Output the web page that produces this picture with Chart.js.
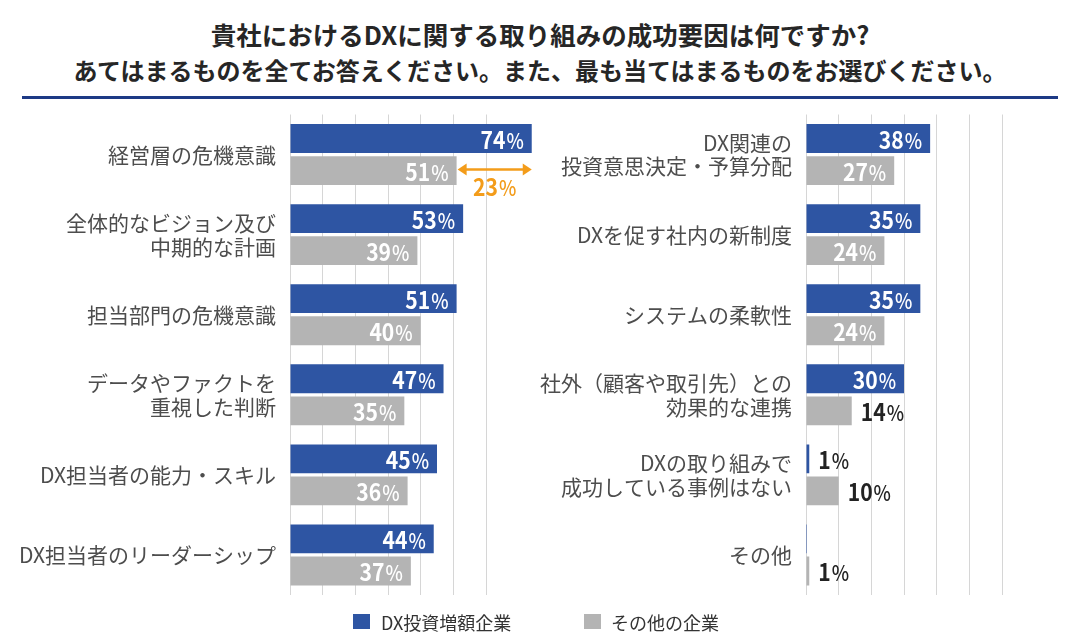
<!DOCTYPE html>
<html lang="ja">
<head>
<meta charset="utf-8">
<script src="https://cdn.jsdelivr.net/npm/chart.js@4.4.1/dist/chart.umd.min.js"></script>
<style>
  html, body { margin: 0; padding: 0; background: #ffffff; }
  body { width: 1080px; height: 640px; position: relative; overflow: hidden; font-family: "Noto Sans CJK JP", "Noto Sans", sans-serif; }
  .title { position: absolute; left: 0; width: 1080px; text-align: center; font-weight: bold; color: #262626; white-space: nowrap; line-height: 30px; }
  #t1 { top: 19px; font-size: 25.5px; }
  #t2 { top: 55px; font-size: 24px; }
  #rule { position: absolute; left: 22px; top: 96px; width: 1036px; height: 3px; background: #1d3a85; }
  canvas { position: absolute; }
  #cL { left: 0; top: 100px; }
  #cR { left: 540px; top: 100px; }
  .leg { position: absolute; top: 609px; font-size: 18px; color: #333; line-height: 26px; white-space: nowrap; }
  .sw { position: absolute; width: 17px; height: 15px; top: 614px; }
</style>
</head>
<body>
<div class="title" id="t1">貴社におけるDXに関する取り組みの成功要因は何ですか?</div>
<div class="title" id="t2">あてはまるものを全てお答えください。また、最も当てはまるものをお選びください。</div>
<div id="rule"></div>
<canvas id="cL" width="545" height="540"></canvas>
<canvas id="cR" width="540" height="540"></canvas>
<div class="sw" style="left:353px; background:#2e55a3;"></div>
<div class="leg" style="left:381px;" id="leg1"></div>
<div class="sw" style="left:584px; background:#b4b4b4;"></div>
<div class="leg" style="left:611px;" id="leg2"></div>
<script>
// ---- data ----
const seriesNames = ['DX投資増額企業', 'その他の企業'];
const categoriesLeft = [
  ['経営層の危機意識'],
  ['全体的なビジョン及び', '中期的な計画'],
  ['担当部門の危機意識'],
  ['データやファクトを', '重視した判断'],
  ['DX担当者の能力・スキル'],
  ['DX担当者のリーダーシップ']
];
const dxLeft = [74, 53, 51, 47, 45, 44];
const otherLeft = [51, 39, 40, 35, 36, 37];

const categoriesRight = [
  ['DX関連の', '投資意思決定・予算分配'],
  ['DXを促す社内の新制度'],
  ['システムの柔軟性'],
  ['社外（顧客や取引先）との', '効果的な連携'],
  ['DXの取り組みで', '成功している事例はない'],
  ['その他']
];
const dxRight = [38, 35, 35, 30, 1, 0.3];
const otherRight = [27, 24, 24, 14, 10, 1];

const axisMax = 75;
const gridStep = 10;

// ---- styles ----
const BLUE = '#2e55a3';
const GRAY = '#b4b4b4';
const ORANGE = '#f39c1a';
const FONT = '"Noto Sans CJK JP", "Noto Sans", sans-serif';

document.getElementById('leg1').textContent = seriesNames[0];
document.getElementById('leg2').textContent = seriesNames[1];

const SX = 0.88;
const NUM_FONT = 'bold 24px ';
const PCT_FONT = '500 21px ';
function pctWidth(ctx, value) {
  ctx.save();
  ctx.font = NUM_FONT + FONT;
  const wn = ctx.measureText(String(Math.round(value))).width * SX;
  ctx.font = PCT_FONT + FONT;
  const wp = ctx.measureText('%').width * SX;
  ctx.restore();
  return { wn, wp, total: wn + wp + 1 };
}
function drawPct(ctx, value, x, y, align, color) {
  const num = String(Math.round(value));
  const m = pctWidth(ctx, value);
  ctx.save();
  ctx.fillStyle = color;
  ctx.textBaseline = 'middle';
  ctx.textAlign = 'left';
  const x0 = align === 'right' ? x - m.total : x;
  ctx.translate(x0, y);
  ctx.scale(SX, 1);
  ctx.font = NUM_FONT + FONT;
  ctx.fillText(num, 0, 1);
  ctx.font = PCT_FONT + FONT;
  ctx.fillText('%', (m.wn + 1) / SX, 2);
  ctx.restore();
}

const labelPlugin = {
  id: 'barLabels',
  afterDatasetsDraw(chart) {
    const ctx = chart.ctx;
    chart.data.datasets.forEach((ds, di) => {
      const meta = chart.getDatasetMeta(di);
      meta.data.forEach((bar, i) => {
        const v = ds.data[i];
        if (v < 0.5) return;
        if (v >= 20) {
          drawPct(ctx, v, bar.x - 8, bar.y, 'right', '#ffffff');
        } else {
          drawPct(ctx, v, bar.x + 9, bar.y, 'left', '#222222');
        }
      });
    });
  }
};

const gapPlugin = {
  id: 'gapArrow',
  afterDatasetsDraw(chart) {
    if (!chart.options.plugins.gapArrow || !chart.options.plugins.gapArrow.show) return;
    const ctx = chart.ctx;
    const a = chart.getDatasetMeta(0).data[0];
    const b = chart.getDatasetMeta(1).data[0];
    const x1 = b.x + 1, x2 = a.x, y = b.y - 1;
    ctx.save();
    ctx.strokeStyle = ORANGE; ctx.fillStyle = ORANGE; ctx.lineWidth = 2.5;
    ctx.beginPath(); ctx.moveTo(x1 + 6, y); ctx.lineTo(x2 - 6, y); ctx.stroke();
    ctx.beginPath(); ctx.moveTo(x1, y); ctx.lineTo(x1 + 9, y - 6); ctx.lineTo(x1 + 9, y + 6); ctx.closePath(); ctx.fill();
    ctx.beginPath(); ctx.moveTo(x2, y); ctx.lineTo(x2 - 9, y - 6); ctx.lineTo(x2 - 9, y + 6); ctx.closePath(); ctx.fill();
    ctx.restore();
    const diff = chart.data.datasets[0].data[0] - chart.data.datasets[1].data[0];
    const cx = (x1 + x2) / 2;
    const m = pctWidth(ctx, diff);
    drawPct(ctx, diff, cx - m.total / 2, y + 16, 'left', ORANGE);
  }
};

function makeChart(id, cats, d1, d2, yWidth, padRight, showGap) {
  return new Chart(document.getElementById(id), {
    type: 'bar',
    data: {
      labels: cats,
      datasets: [
        { label: seriesNames[0], data: d1, backgroundColor: BLUE, categoryPercentage: 0.8, barPercentage: 0.9 },
        { label: seriesNames[1], data: d2, backgroundColor: GRAY, categoryPercentage: 0.8, barPercentage: 0.9 }
      ]
    },
    options: {
      indexAxis: 'y',
      responsive: false,
      animation: false,
      layout: { padding: { top: 14.5, bottom: 45, left: 0, right: padRight } },
      plugins: { legend: { display: false }, tooltip: { enabled: false }, gapArrow: { show: showGap } },
      scales: {
        x: {
          min: 0, max: axisMax,
          ticks: { display: false, stepSize: gridStep },
          grid: {
            drawTicks: false,
            color: (c) => (c.tick && c.tick.value % gridStep === 0) ? '#d6d6d6' : 'rgba(0,0,0,0)',
            lineWidth: 1
          },
          border: { display: false },
          afterFit: (s) => { s.height = 0; s.paddingLeft = 0; s.paddingRight = 0; }
        },
        y: {
          grid: { display: false, drawTicks: false },
          border: { display: false },
          ticks: { color: '#4d4d4d', padding: 14, font: { family: FONT, size: 21, lineHeight: 1.14 } },
          afterFit: (s) => { s.width = yWidth; s.paddingTop = 0; s.paddingBottom = 0; }
        }
      }
    },
    plugins: [labelPlugin, gapPlugin]
  });
}

makeChart('cL', categoriesLeft, dxLeft, otherLeft, 290, 10, true);
makeChart('cR', categoriesRight, dxRight, otherRight, 266, 29, false);
</script>
</body>
</html>
